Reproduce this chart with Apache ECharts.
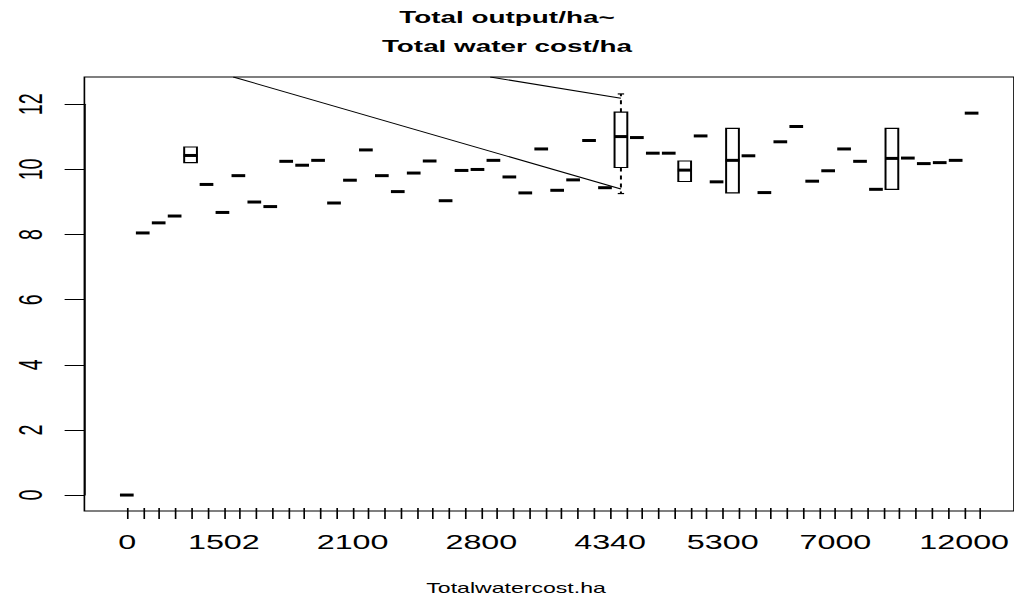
<!DOCTYPE html>
<html>
<head>
<meta charset="utf-8">
<script src="https://cdn.jsdelivr.net/npm/echarts@6/dist/echarts.min.js"></script>
<style>
html,body{margin:0;padding:0;background:#fff;overflow:hidden;}
#wrap{width:1014px;height:600px;overflow:hidden;position:relative;background:#fff;}
#chart{width:615px;height:600px;transform-origin:0 0;}
</style>
</head>
<body>
<div id="wrap"><div id="chart"></div></div>
<script>
// ---------------- DATA ----------------
// category labels (only the ones R could print are known)
const categories = ['0','','','','','','1502','','','','','','','','2100','','','','','','','','2800','','','','','','','','4340','','','','','','','5300','','','','','','','7000','','','','','','','','12000',''];
// median of Total output/ha per category
const medians = [0, 8.05, 8.36, 8.57, 10.43, 9.54, 8.68, 9.81, 9.00, 8.86,
  10.25, 10.13, 10.28, 8.97, 9.67, 10.60, 9.81, 9.32, 9.89, 10.26,
  9.04, 9.97, 10.00, 10.28, 9.77, 9.28, 10.63, 9.36, 9.68, 10.89,
  9.44, 11.01, 10.98, 10.50, 10.50, 9.98, 11.03, 9.62, 10.28, 10.42,
  9.29, 10.85, 11.32, 9.64, 9.96, 10.63, 10.25, 9.39, 10.34, 10.35,
  10.18, 10.21, 10.28, 11.73];
// categories that have more than one observation (real boxes)
const boxIndex = [4, 31, 35, 38, 48];
const boxLow   = [10.21, 9.26, 9.63, 9.28, 9.39];
const boxQ1    = [10.21, 10.06, 9.63, 9.28, 9.39];
const boxQ3    = [10.69, 11.76, 10.26, 11.26, 11.26];
const boxHigh  = [10.69, 12.32, 10.26, 11.26, 11.26];
// stray segments visible in the figure (category position, value)
const strayLineA = [[6.68, 12.84], [31, 9.40]];
const strayLineB = [[22.8, 12.84], [31, 12.19]];
// y tick values
const yTicks = [0, 2, 4, 6, 8, 10, 12];
const titleText = 'Total output/ha~\nTotal water cost/ha';
const xName = 'Totalwatercost.ha';

// ---------------- LAYOUT ----------------
const K = 1014 / 615;             // horizontal stretch of the original figure
const W = 615, H = 600;
document.getElementById('chart').style.transform = 'scaleX(' + K + ')';
const FONT = '"Liberation Sans", Arial, Helvetica, sans-serif';
const frame = {left: 84.4 / K, right: 1025 / K, top: 77, bottom: 511};
const xRange = [-2.66, 55.66];
const yRange = [-0.49, 12.84];
const ppx = (frame.right - frame.left) / (xRange[1] - xRange[0]);
const ppy = (frame.bottom - frame.top) / (yRange[1] - yRange[0]);
const n = categories.length;
const catLeft = frame.left + (-0.5 - xRange[0]) * ppx;
const catRight = frame.left + (n - 0.5 - xRange[0]) * ppx;
const yTop = frame.top + (yRange[1] - yTicks[yTicks.length - 1]) * ppy;
const yBot = frame.top + (yRange[1] - yTicks[0]) * ppy;
const xNameCenter = 517 / K;
const nameShift = (catLeft + catRight) / 2 - xNameCenter;

const boxData = medians.map((m, i) => {
  const k = boxIndex.indexOf(i);
  return k < 0 ? [i, m, m, m, m, m] : [i, boxLow[k], boxQ1[k], m, boxQ3[k], boxHigh[k]];
});

function renderBox(params, api) {
  const x = api.value(0);
  const lo = api.value(1), q1 = api.value(2), md = api.value(3), q3 = api.value(4), hi = api.value(5);
  const band = api.size([1, 0])[0];
  const half = band * 0.4, medHalf = band * 0.43, cap = band * 0.2;
  const c = v => api.coord([x, v]);
  const pLo = c(lo), pQ1 = c(q1), pMd = c(md), pQ3 = c(q3), pHi = c(hi);
  const cx = pMd[0];
  const thin = {stroke: '#000', lineWidth: 1.2, fill: null};
  const ch = [];
  if (hi > q3) {
    ch.push({type: 'line', shape: {x1: cx, y1: pQ3[1], x2: cx, y2: pHi[1]}, style: Object.assign({}, thin, {lineDash: [4, 4]})});
    ch.push({type: 'line', shape: {x1: cx - cap, y1: pHi[1], x2: cx + cap, y2: pHi[1]}, style: thin});
  }
  if (lo < q1) {
    ch.push({type: 'line', shape: {x1: cx, y1: pQ1[1], x2: cx, y2: pLo[1]}, style: Object.assign({}, thin, {lineDash: [4, 4]})});
    ch.push({type: 'line', shape: {x1: cx - cap, y1: pLo[1], x2: cx + cap, y2: pLo[1]}, style: thin});
  }
  if (q3 > q1) {
    ch.push({type: 'rect', shape: {x: cx - half, y: pQ3[1], width: 2 * half, height: pQ1[1] - pQ3[1]},
      style: {fill: '#fff', stroke: '#000', lineWidth: 1.2}});
  }
  ch.push({type: 'line', shape: {x1: cx - medHalf, y1: pMd[1], x2: cx + medHalf, y2: pMd[1]},
    style: {stroke: '#000', lineWidth: 3, lineCap: 'butt'}});
  return {type: 'group', children: ch};
}

const chart = echarts.init(document.getElementById('chart'), null, {renderer: 'svg', width: W, height: H});
chart.setOption({
  animation: false,
  backgroundColor: '#fff',
  title: {
    text: titleText, left: 507 / K, top: 2.5, textAlign: 'center', padding: 0,
    textStyle: {fontFamily: FONT, fontWeight: 'bold', fontSize: 16.9, lineHeight: 29, color: '#000'}
  },
  grid: [
    {left: frame.left, top: frame.top, width: frame.right - frame.left, height: frame.bottom - frame.top,
     show: true, borderColor: '#000', borderWidth: 1, backgroundColor: 'transparent', containLabel: false},
    {left: catLeft, top: frame.top, width: catRight - catLeft, height: frame.bottom - frame.top, containLabel: false},
    {left: frame.left, top: yTop, width: frame.right - frame.left, height: yBot - yTop, containLabel: false}
  ],
  xAxis: [
    {gridIndex: 0, type: 'value', min: xRange[0], max: xRange[1], show: false},
    {gridIndex: 1, type: 'category', data: categories, boundaryGap: true,
     axisLine: {show: false, onZero: false},
     axisTick: {show: true, alignWithLabel: true, interval: 0, length: 11, lineStyle: {color: '#000', width: 1}},
     axisLabel: {interval: (i, v) => v !== '', margin: 24, fontSize: 19.6, color: '#000', fontFamily: FONT},
     name: xName, nameLocation: 'middle', nameGap: 73,
     nameTextStyle: {fontFamily: FONT, fontSize: 14, color: '#000', padding: [0, 2 * nameShift, 0, 0]},
     splitLine: {show: false}},
    {gridIndex: 2, type: 'value', show: false, min: xRange[0], max: xRange[1]}
  ],
  yAxis: [
    {gridIndex: 0, type: 'value', min: yRange[0], max: yRange[1], show: false},
    {gridIndex: 1, type: 'value', min: yRange[0], max: yRange[1], show: false},
    {gridIndex: 2, type: 'value', min: yTicks[0], max: yTicks[yTicks.length - 1], interval: yTicks[1] - yTicks[0],
     axisLine: {show: true, onZero: false, lineStyle: {color: '#000', width: 1}},
     axisTick: {show: true, length: 12, lineStyle: {color: '#000', width: 1}},
     axisLabel: {rotate: 90, margin: 22.5, fontSize: 19.6, color: '#000', fontFamily: FONT},
     splitLine: {show: false}}
  ],
  series: [
    {type: 'custom', xAxisIndex: 0, yAxisIndex: 0, data: boxData, renderItem: renderBox, silent: true, z: 3},
    {type: 'line', xAxisIndex: 0, yAxisIndex: 0, data: strayLineA, symbol: 'none', silent: true,
     lineStyle: {color: '#000', width: 1}, z: 2},
    {type: 'line', xAxisIndex: 0, yAxisIndex: 0, data: strayLineB, symbol: 'none', silent: true,
     lineStyle: {color: '#000', width: 1}, z: 2}
  ]
});
</script>
</body>
</html>
